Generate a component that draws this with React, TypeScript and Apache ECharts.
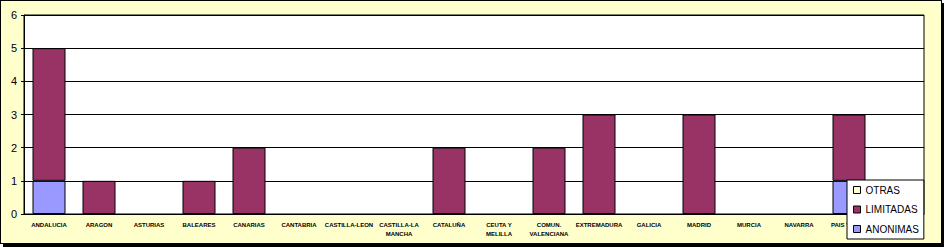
import React, { useEffect, useRef } from "react";
import * as echarts from "echarts";

const categories = [
  "ANDALUCIA",
  "ARAGON",
  "ASTURIAS",
  "BALEARES",
  "CANARIAS",
  "CANTABRIA",
  "CASTILLA-LEON",
  "CASTILLA-LA\nMANCHA",
  "CATALUÑA",
  "CEUTA Y\nMELILLA",
  "COMUN.\nVALENCIANA",
  "EXTREMADURA",
  "GALICIA",
  "MADRID",
  "MURCIA",
  "NAVARRA",
  "PAIS VASCO",
  "LA RIOJA",
];

const anonimas = [1, 0, 0, 0, 0, 0, 0, 0, 0, 0, 0, 0, 0, 0, 0, 0, 1, 0];
const limitadas = [4, 1, 0, 1, 2, 0, 0, 0, 2, 0, 2, 3, 0, 3, 0, 0, 2, 0];
const otras = [0, 0, 0, 0, 0, 0, 0, 0, 0, 0, 0, 0, 0, 0, 0, 0, 0, 0];

const yTicks = { min: 0, max: 6, interval: 1 };

// zero-height segments are not drawn (avoids stray outline strokes)
const hideZero = (arr: number[]) => arr.map((v) => (v === 0 ? null : v));

export default function App() {
  const ref = useRef<HTMLDivElement>(null);

  useEffect(() => {
    document.body.style.margin = "0";
    if (!ref.current) return;
    const chart = echarts.init(ref.current, null, { renderer: "svg" });
    const font = "'Liberation Sans', Arial, sans-serif";
    chart.setOption({
      animation: false,
      backgroundColor: "transparent",
      grid: {
        left: 24,
        top: 15,
        width: 900,
        height: 199,
        show: true,
        backgroundColor: "#ffffff",
        borderColor: "#000000",
        borderWidth: 1,
        containLabel: false,
      },
      xAxis: {
        type: "category",
        data: categories,
        axisLine: { show: true, lineStyle: { color: "#000", width: 1 } },
        axisTick: { show: false },
        axisLabel: {
          interval: 0,
          margin: 6,
          fontSize: 6,
          fontWeight: "bold",
          fontFamily: font,
          color: "#000",
          lineHeight: 9,
        },
      },
      yAxis: {
        type: "value",
        min: yTicks.min,
        max: yTicks.max,
        interval: yTicks.interval,
        axisLine: { show: true, lineStyle: { color: "#000", width: 1 } },
        axisTick: { show: true, length: 3, lineStyle: { color: "#000" } },
        splitLine: { show: true, lineStyle: { color: "#000", width: 1 } },
        axisLabel: {
          margin: 7,
          fontSize: 11,
          fontFamily: font,
          color: "#000",
        },
      },
      legend: {
        orient: "vertical",
        left: 847,
        top: 180,
        data: ["OTRAS", "LIMITADAS", "ANONIMAS"],
        backgroundColor: "#ffffff",
        borderColor: "#000000",
        borderWidth: 1,
        borderRadius: 0,
        padding: [4, 5, 4, 6],
        itemWidth: 7,
        itemHeight: 7,
        itemGap: 7.5,
        icon: "rect",
        itemStyle: { borderColor: "#000", borderWidth: 1 },
        textStyle: { fontSize: 10, fontFamily: font, color: "#000", lineHeight: 12 },
        z: 10,
      },
      series: [
        {
          name: "ANONIMAS",
          type: "bar",
          stack: "total",
          data: hideZero(anonimas),
          barWidth: 33,
          itemStyle: { color: "#9999ff", borderColor: "#000", borderWidth: 1 },
        },
        {
          name: "LIMITADAS",
          type: "bar",
          stack: "total",
          data: hideZero(limitadas),
          barWidth: 33,
          itemStyle: { color: "#993366", borderColor: "#000", borderWidth: 1 },
        },
        {
          name: "OTRAS",
          type: "bar",
          stack: "total",
          data: hideZero(otras),
          barWidth: 33,
          itemStyle: { color: "#ffffcc", borderColor: "#000", borderWidth: 1 },
        },
      ],
    });
    return () => chart.dispose();
  }, []);

  return (
    <div style={{ position: "relative", width: 944, height: 247, overflow: "hidden" }}>
      <div
        style={{
          position: "absolute",
          left: 0,
          top: 0,
          width: 942,
          height: 244,
          boxSizing: "border-box",
          background: "#ffffcc",
          border: "1px solid #000",
          boxShadow: "3px 3px 0 #000",
        }}
      />
      <div ref={ref} style={{ position: "absolute", left: 0, top: 0, width: 944, height: 247 }} />
    </div>
  );
}
